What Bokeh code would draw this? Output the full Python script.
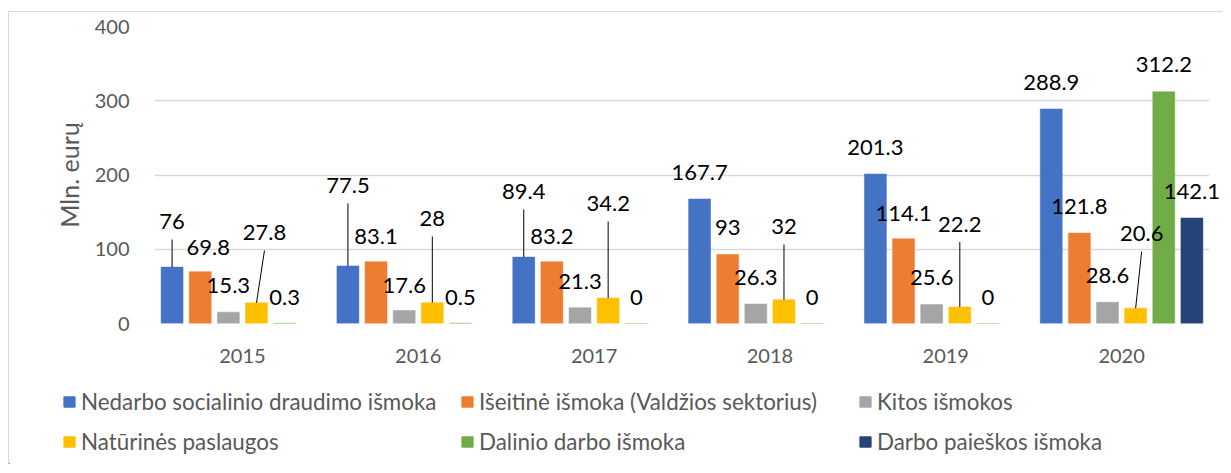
import numpy as np
from bokeh.plotting import figure
from bokeh.models import Range1d, Legend, LegendItem, FixedTicker, ColumnDataSource
from bokeh.core.properties import value
from bokeh.embed import file_html
from bokeh.resources import INLINE

# ---------------- data ----------------
years = ["2015", "2016", "2017", "2018", "2019", "2020"]
series_names = [
    "Nedarbo socialinio draudimo išmoka",
    "Išeitinė išmoka (Valdžios sektorius)",
    "Kitos išmokos",
    "Natūrinės paslaugos",
    "Dalinio darbo išmoka",
    "Darbo paieškos išmoka",
]
nedarbo = [76, 77.5, 89.4, 167.7, 201.3, 288.9]
iseitine = [69.8, 83.1, 83.2, 93, 114.1, 121.8]
kitos = [15.3, 17.6, 21.3, 26.3, 25.6, 28.6]
naturines = [27.8, 28, 34.2, 32, 22.2, 20.6]
dalinio = [0.3, 0.5, 0, 0, 0, 312.2]
paieskos = [None, None, None, None, None, 142.1]
y_ticks = [0, 100, 200, 300, 400]

series_values = [nedarbo, iseitine, kitos, naturines, dalinio, paieskos]
colors = ["#4472C4", "#ED7D31", "#A5A5A5", "#FFC000", "#70AD47", "#264478"]

# ---------------- label placement (layout, not data) ----------------
label_y = [
    [137.4, 185.9, 177.8, 203.4, 237.0, 324.6],
    [102.4, 117.2, 117.2, 129.3, 148.1, 157.6],
    [51.2, 51.2, 56.6, 62.0, 62.0, 64.6],
    [122.6, 141.4, 161.6, 130.6, 134.0, 121.2],
    [35.0, 35.0, 35.0, 35.0, 35.0, 348.8],
    [None, None, None, None, None, 177.8],
]
label_dx_px = [
    [0, 0, 0, 0, 0, 0],
    [8, 0, 0, 0, 0, 0],
    [0, 0, 0, 0, 0, 0],
    [8, 0, 0, 0, 0, 6],
    [0, 0, 0, 0, 0, 0],
    [0, 0, 0, 0, 0, 0],
]
leader = [
    [1, 1, 1, 0, 0, 0],
    [0, 0, 0, 0, 0, 0],
    [0, 0, 0, 0, 0, 0],
    [1, 1, 1, 1, 1, 1],
    [0, 0, 0, 0, 0, 0],
    [0, 0, 0, 0, 0, 0],
]

FONT = "Lato"
GREY_TXT = "#595959"
BORDER = "1px solid #D9D9D9"
W = 1214
H_MAIN = 370
H_LEG = 83
FRAME_LEFT = 145
PLOT_W = 1055.0          # width of the 6 groups in px
FRAME_H = 297.0
PITCH = 0.16
BAR_W = 0.125

px_x = 6.0 / PLOT_W
px_y = 400.0 / FRAME_H
x_end = (W - FRAME_LEFT) * px_x

p = figure(
    width=W, height=H_MAIN,
    x_range=Range1d(0, x_end), y_range=Range1d(0, 400),
    output_backend="svg", toolbar_location=None,
    min_border_left=FRAME_LEFT, min_border_right=0,
    min_border_top=14, min_border_bottom=H_MAIN - 14 - int(FRAME_H),
)
p.outline_line_color = None
p.background_fill_color = "white"
p.border_fill_color = "white"
p.styles = {"border-top": BORDER, "border-left": BORDER,
            "position": "relative", "left": "8px", "top": "11px"}

lx, ly, lt = [], [], []
sx0, sy0, sx1, sy1 = [], [], [], []
for j, (name, vals, col) in enumerate(zip(series_names, series_values, colors)):
    off = (j - 2.5) * PITCH
    xs = [i + 0.5 + off for i in range(len(years))]
    tops = [np.nan if v is None else v for v in vals]
    src = ColumnDataSource(dict(x=xs, top=tops))
    p.vbar(x="x", top="top", bottom=0, width=BAR_W, source=src,
           fill_color=col, line_color=col, line_width=0.5)
    for i, v in enumerate(vals):
        if v is None:
            continue
        tx = xs[i] + label_dx_px[j][i] * px_x
        ty = label_y[j][i]
        lx.append(tx)
        ly.append(ty)
        lt.append(f"{v:g}")
        if leader[j][i]:
            sx0.append(tx)
            sy0.append(ty - 18 * px_y)
            sx1.append(xs[i])
            sy1.append(v)

p.segment(x0=sx0, y0=sy0, x1=sx1, y1=sy1, line_color="black", line_width=1)
p.text(x=lx, y=ly, text=lt, text_font=value(FONT), text_font_size="22px",
       text_align="center", text_baseline="middle", text_color="black")

# axes / grid
p.xgrid.visible = False
p.ygrid.grid_line_color = "#D9D9D9"
p.ygrid.grid_line_width = 1.3
p.ygrid.cross_bounds = (0, 6)
p.yaxis.ticker = FixedTicker(ticks=y_ticks)
p.xaxis.ticker = FixedTicker(ticks=[i + 0.5 for i in range(len(years))])
p.xaxis.major_label_overrides = {i + 0.5: y for i, y in enumerate(years)}
for ax in (p.xaxis[0], p.yaxis[0]):
    ax.axis_line_color = None
    ax.major_tick_line_color = None
    ax.minor_tick_line_color = None
    ax.major_label_text_font = FONT
    ax.major_label_text_color = GREY_TXT
p.yaxis.major_label_text_font_size = "20px"
p.yaxis.major_label_standoff = 19
p.xaxis.major_label_text_font_size = "20px"
p.xaxis.major_label_standoff = 19
p.yaxis.axis_label = "Mln. eurų"
p.yaxis.axis_label_text_font = FONT
p.yaxis.axis_label_text_font_size = "25px"
p.yaxis.axis_label_text_font_style = "normal"
p.yaxis.axis_label_text_color = GREY_TXT
p.yaxis.axis_label_standoff = 8

# ---------------- legend panel (separate root, below the chart) ----------------
pl = figure(
    width=W, height=H_LEG,
    x_range=Range1d(0, W), y_range=Range1d(0, H_LEG),
    output_backend="svg", toolbar_location=None,
    x_axis_location=None, y_axis_location=None,
    min_border_left=0, min_border_right=0, min_border_top=0, min_border_bottom=0,
)
pl.grid.visible = False
pl.outline_line_color = None
pl.border_fill_color = "white"
pl.background_fill_color = "white"
pl.styles = {"border-left": BORDER, "position": "relative",
             "left": "8px", "top": "11px"}

# swatch renderers sit outside the visible range; they only feed the legend
leg_renderers = []
for col in colors:
    leg_renderers.append(pl.vbar(x=[-1000], top=[1], width=1,
                                 fill_color=col, line_color=col))

leg_pos = [(53, 48.5), (451, 48.5), (849, 48.5),
           (53, 8.5), (451, 8.5), (849, 8.5)]
for k in range(6):
    lg = Legend(items=[LegendItem(label=series_names[k], renderers=[leg_renderers[k]])],
                location=leg_pos[k])
    lg.border_line_color = None
    lg.background_fill_alpha = 0
    lg.padding = 0
    lg.margin = 0
    lg.spacing = 0
    lg.glyph_width = 14
    lg.glyph_height = 13
    lg.label_height = 28
    lg.label_standoff = 5
    lg.label_text_font = FONT
    lg.label_text_font_size = "22.4px"
    lg.label_text_color = GREY_TXT
    pl.add_layout(lg)

open("out.html", "w").write(file_html([p, pl], INLINE))
